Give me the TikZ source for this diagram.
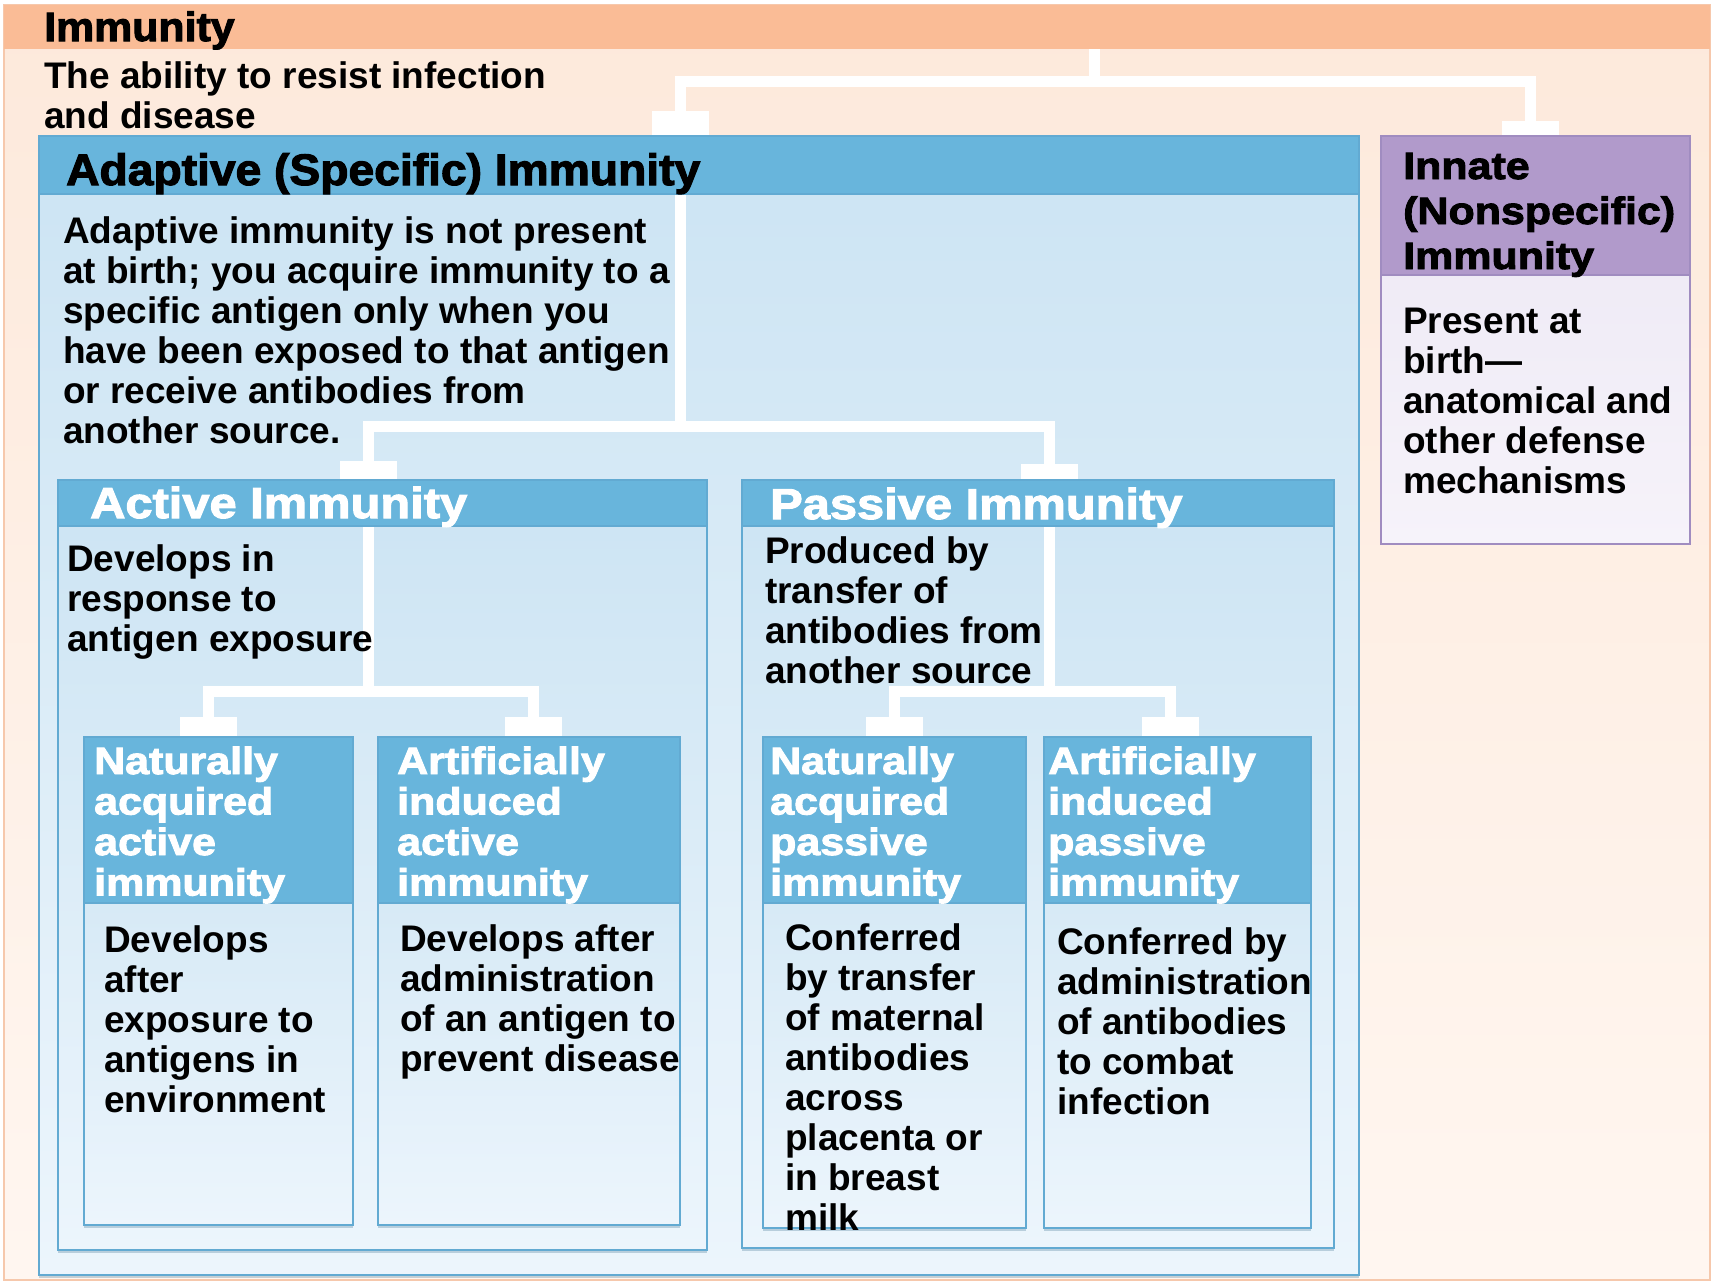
\documentclass[tikz,border=0pt]{standalone}
\usepackage{fontspec}
\setmainfont{Liberation Sans}
\newfontfamily\widefont{Liberation Sans}[FakeStretch=1.13,FakeBold=2.5]
\newfontfamily\heavyfont{Liberation Sans}[FakeStretch=1.05,FakeBold=2.5]
\usetikzlibrary{shadows}

\definecolor{bandOrange}{RGB}{250,188,150}
\definecolor{peachTop}{RGB}{253,233,219}
\definecolor{peachBot}{RGB}{255,246,240}
\definecolor{frameEdge}{RGB}{246,200,172}
\definecolor{headBlue}{RGB}{104,181,220}
\definecolor{edgeBlue}{RGB}{98,170,210}
\definecolor{paleTop}{RGB}{204,228,243}
\definecolor{paleBot}{RGB}{236,245,252}
\definecolor{headPurple}{RGB}{177,154,203}
\definecolor{edgePurple}{RGB}{160,140,192}
\definecolor{lavTop}{RGB}{236,231,244}
\definecolor{lavBot}{RGB}{246,243,250}

\newcommand\bodyfnt{\fontsize{37}{40}\selectfont\bfseries}
\newcommand\titlefnt{\heavyfont\bfseries\fontsize{40.8}{44}\selectfont}
\newcommand\adfnt{\heavyfont\bfseries\fontsize{44}{46}\selectfont}
\newcommand\branchfnt{\widefont\bfseries\fontsize{43.2}{46}\selectfont}
\newcommand\leaffnt{\widefont\bfseries\fontsize{38}{40.5}\selectfont}
\newcommand\innatefnt{\widefont\bfseries\fontsize{38}{45}\selectfont}

\begin{document}
\begin{tikzpicture}[x=1pt,y=-1pt,
  box/.style={anchor=north west, inner sep=0pt, outer sep=0pt},
  panel/.style={box, draw=edgeBlue, line width=2.2pt, top color=paleTop, bottom color=paleBot,
    drop shadow={shadow xshift=0pt, shadow yshift=-3pt, opacity=0.3, fill=edgeBlue!70!black}},
  headbar/.style={box, fill=headBlue, draw=edgeBlue, line width=2.2pt},
  panelP/.style={box, draw=edgePurple, line width=2.2pt, top color=lavTop, bottom color=lavBot},
  headbarP/.style={box, fill=headPurple, draw=edgePurple, line width=2.2pt},
  conn/.style={draw=white, line width=11pt, line join=miter},
  stub/.style={fill=white, anchor=south, inner sep=0pt, outer sep=0pt, minimum width=57},
  % multi-line texts are placed by the baseline of their last line
  txt/.style={anchor=base west, inner sep=0pt, align=left, font=\bodyfnt, text=black},
]
\useasboundingbox (0,0) rectangle (1712,1282);
\fill[white] (0,0) rectangle (1712,1282);

% outer frame and title band
\node[box, draw=frameEdge, line width=2pt, top color=peachTop, bottom color=peachBot,
  minimum width=1706, minimum height=1275] (frame) at (4,5) {};
\node[box, fill=bandOrange, minimum width=1706, minimum height=44] (band) at (4,5) {};

% panel bodies
\node[panel, minimum width=1320, minimum height=1139] (adaptive) at (39,136) {};
\node[panelP, minimum width=309, minimum height=408] (innate) at (1381,136) {};
\node[panel, minimum width=649, minimum height=770] (active) at (58,480) {};
\node[panel, minimum width=592, minimum height=768] (passive) at (742,480) {};
\node[panel, minimum width=269, minimum height=488] (natAct) at (84,737) {};
\node[panel, minimum width=302, minimum height=488] (artAct) at (378,737) {};
\node[panel, minimum width=263, minimum height=491] (natPas) at (763,737) {};
\node[panel, minimum width=267, minimum height=491] (artPas) at (1044,737) {};

% connector stubs
\node[stub, minimum height=25] (sAd) at (680,136) {};
\node[stub, minimum height=15] (sIn) at (1530,136) {};
\node[stub, minimum height=19] (sAct) at (368,480) {};
\node[stub, minimum height=16] (sPas) at (1049,480) {};
\node[stub, minimum height=20] (sNA) at (208,737) {};
\node[stub, minimum height=20] (sAA) at (533,737) {};
\node[stub, minimum height=20] (sNP) at (894,737) {};
\node[stub, minimum height=20] (sAP) at (1170,737) {};

% headers
\node[headbar, minimum width=1320, minimum height=58] (adaptiveHead) at (39,136) {};
\node[headbarP, minimum width=309, minimum height=139] (innateHead) at (1381,136) {};
\node[headbar, minimum width=649, minimum height=46] (activeHead) at (58,480) {};
\node[headbar, minimum width=592, minimum height=46] (passiveHead) at (742,480) {};
\node[headbar, minimum width=269, minimum height=166] (natActHead) at (84,737) {};
\node[headbar, minimum width=302, minimum height=166] (artActHead) at (378,737) {};
\node[headbar, minimum width=263, minimum height=166] (natPasHead) at (763,737) {};
\node[headbar, minimum width=267, minimum height=166] (artPasHead) at (1044,737) {};

% branching connectors
\coordinate (hubTop) at (1094,81);
\coordinate (hubAd) at (680,426);
\coordinate (hubAct) at (368,691);
\coordinate (hubPas) at (1049,691);
\draw[conn] (band.south -| hubTop) -- (hubTop);
\draw[conn] (sAd.north) |- (hubTop) -| (sIn.north);
\draw[conn] (adaptiveHead.south -| hubAd) -- (hubAd);
\draw[conn] (sAct.north) |- (hubAd) -| (sPas.north);
\draw[conn] (activeHead.south -| hubAct) -- (hubAct);
\draw[conn] (sNA.north) |- (hubAct) -| (sAA.north);
\draw[conn] (passiveHead.south -| hubPas) -- (hubPas);
\draw[conn] (sNP.north) |- (hubPas) -| (sAP.north);
% header bars drawn again over the connector ends
\node[headbar, minimum width=1320, minimum height=58] at (39,136) {};
\node[headbar, minimum width=649, minimum height=46] at (58,480) {};
\node[headbar, minimum width=592, minimum height=46] at (742,480) {};

% titles and descriptions
\node[txt, font=\titlefnt] (tTitle) at (44,41) {Immunity};
\node[txt] (tSub) at (44,128) {The ability to resist infection\\and disease};
\node[txt, font=\adfnt] (tAdHead) at (66,185) {Adaptive (Specific) Immunity};
\node[txt] (tAdBody) at (63,443) {Adaptive immunity is not present\\at birth; you acquire immunity to a\\specific antigen only when you\\have been exposed to that antigen\\or receive antibodies from\\another source.};
\node[txt, font=\innatefnt] (tInHead) at (1403,269) {Innate\\(Nonspecific)\\Immunity};
\node[txt] (tInBody) at (1403,493) {Present at\\birth—\\anatomical and\\other defense\\mechanisms};

\node[txt, font=\branchfnt, text=white] (tActHead) at (90,518) {Active Immunity};
\node[txt, font=\branchfnt, text=white] (tPasHead) at (770,519) {Passive Immunity};
\node[txt] (tActBody) at (67,651) {Develops in\\response to\\antigen exposure};
\node[txt] (tPasBody) at (765,683) {Produced by\\transfer of\\antibodies from\\another source};

% leaf boxes
\node[txt, font=\leaffnt, text=white] (tNAHead) at (94,895.5) {Naturally\\acquired\\active\\immunity};
\node[txt, font=\leaffnt, text=white] (tAAHead) at (397,895.5) {Artificially\\induced\\active\\immunity};
\node[txt, font=\leaffnt, text=white] (tNPHead) at (770,895.5) {Naturally\\acquired\\passive\\immunity};
\node[txt, font=\leaffnt, text=white] (tAPHead) at (1048,895.5) {Artificially\\induced\\passive\\immunity};

\node[txt] (tNABody) at (104,1112) {Develops\\after\\exposure to\\antigens in\\environment};
\node[txt] (tAABody) at (400,1071) {Develops after\\administration\\of an antigen to\\prevent disease};
\node[txt] (tNPBody) at (785,1230) {Conferred\\by transfer\\of maternal\\antibodies\\across\\placenta or\\in breast\\milk};
\node[txt] (tAPBody) at (1057,1114) {Conferred by\\administration\\of antibodies\\to combat\\infection};
\end{tikzpicture}
\end{document}
